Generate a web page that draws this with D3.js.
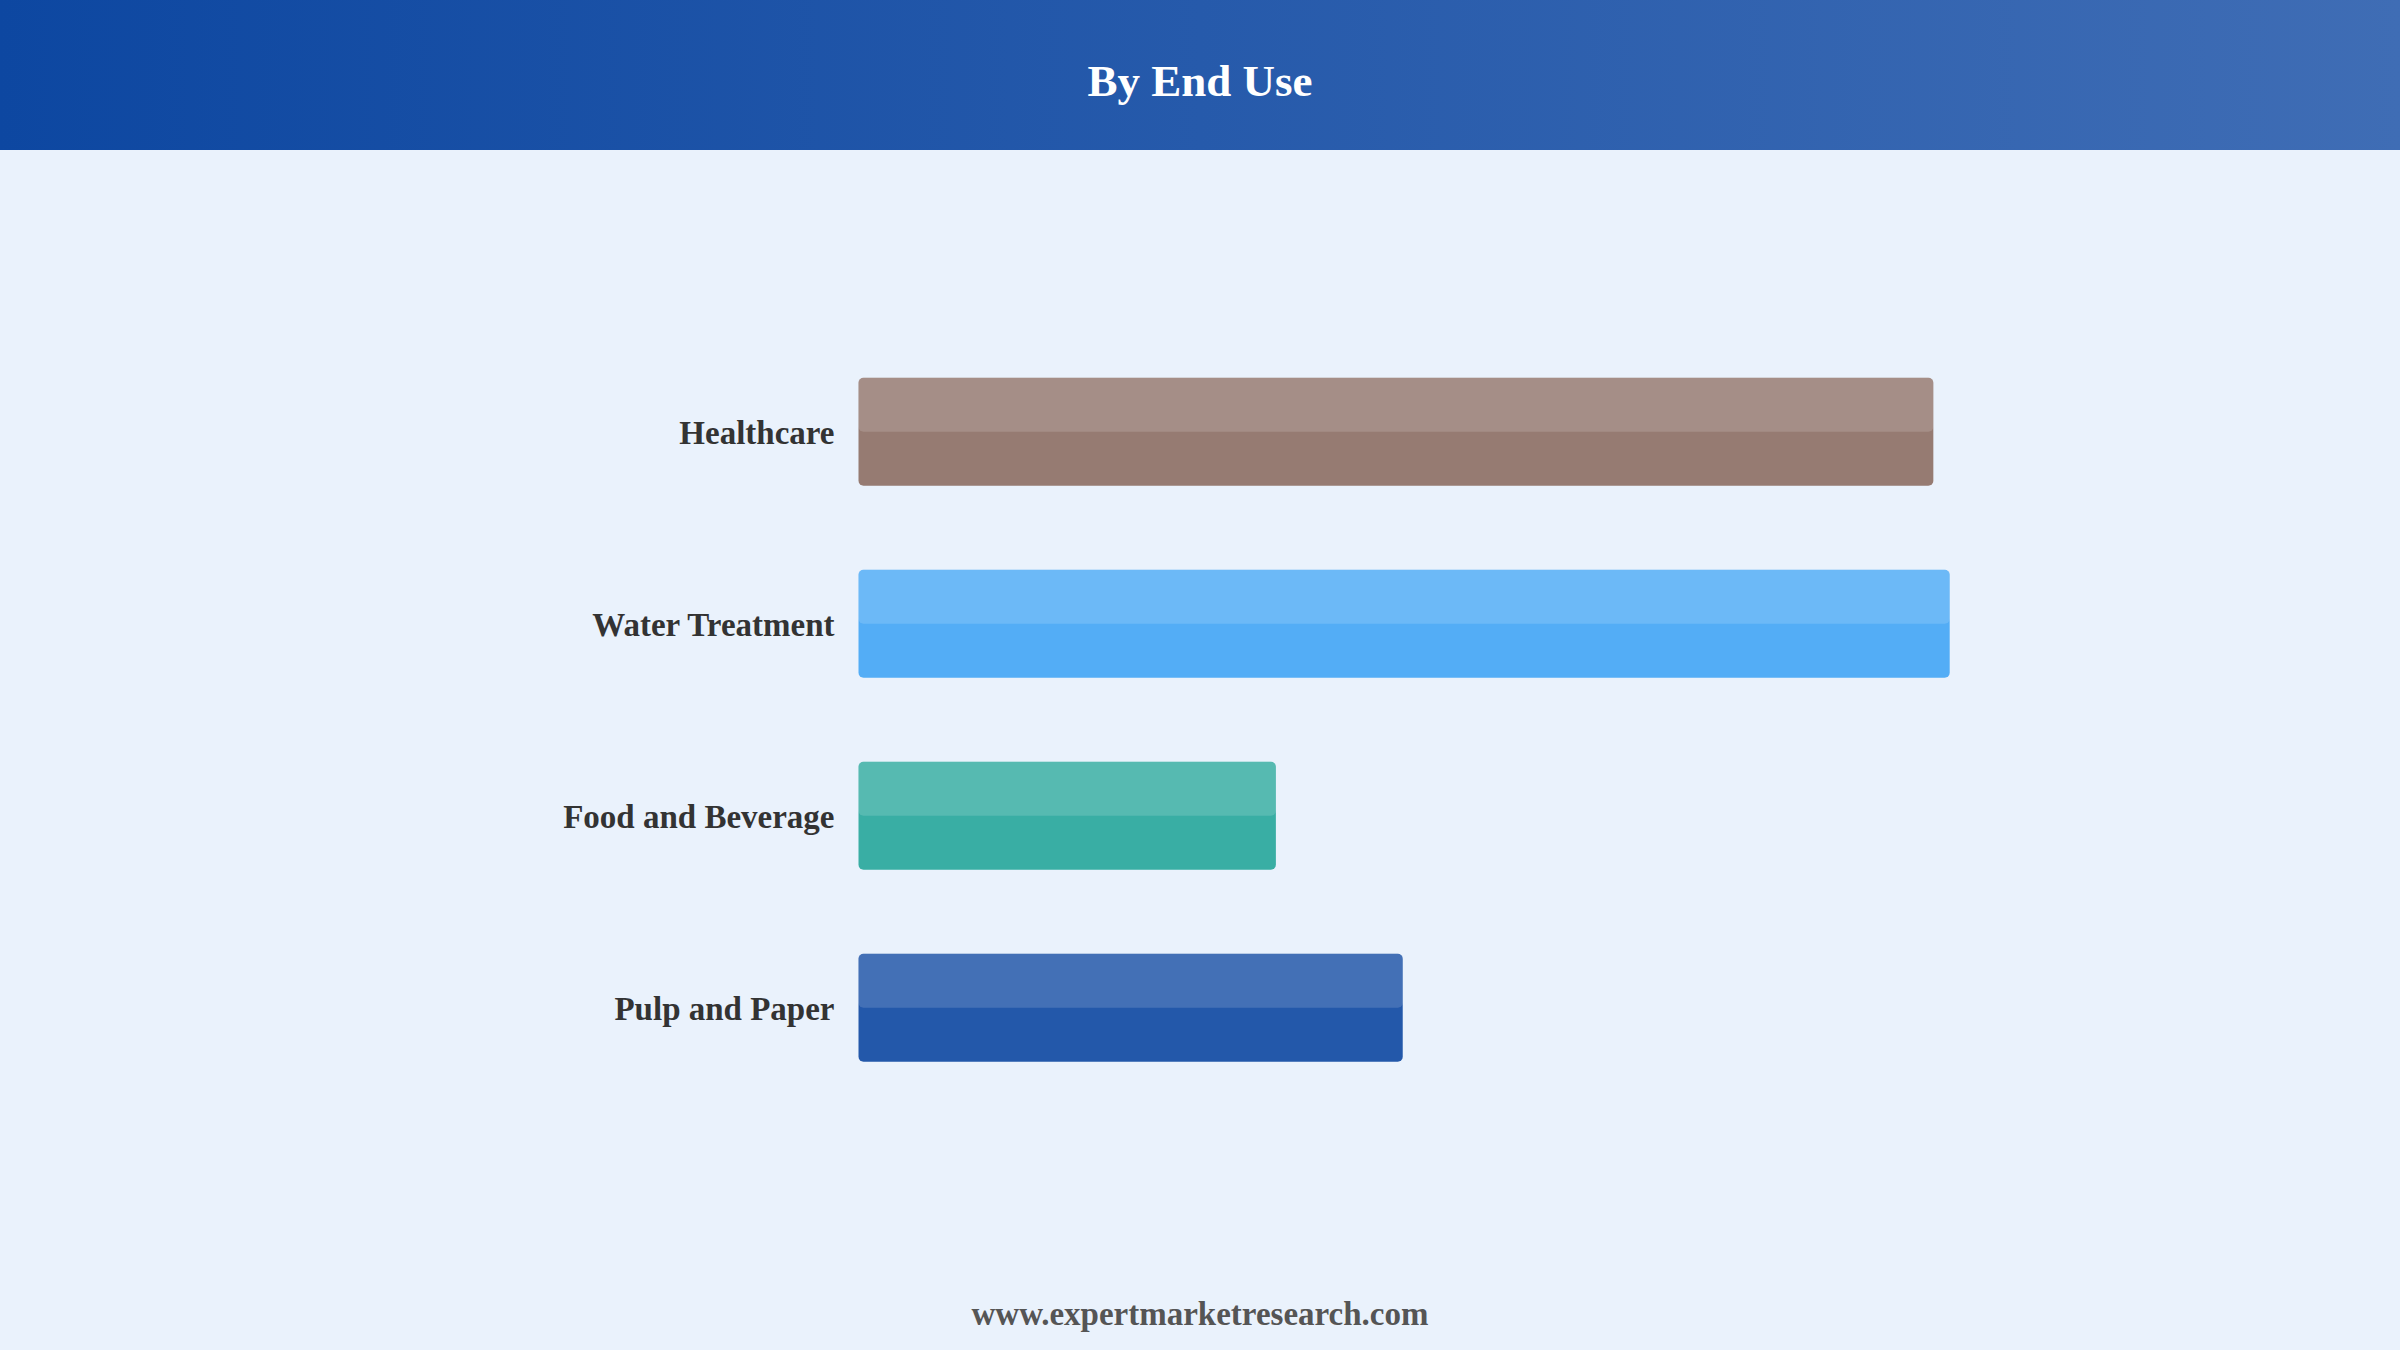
<!DOCTYPE html>
<html>
<head>
<meta charset="utf-8">
<script src="https://cdn.jsdelivr.net/npm/d3@7"></script>
<style>
  html, body { margin: 0; padding: 0; background: #EAF2FC; }
  svg { display: block; }
</style>
</head>
<body>
<svg id="chart" width="2400" height="1350"></svg>
<script>
const categories = ["Healthcare", "Water Treatment", "Food and Beverage", "Pulp and Paper"];
const values = [39.4, 40, 15.3, 19.95];
const colors = ["#8D6E63", "#42A5F5", "#26A69A", "#0D47A1"];
const titleText = "By End Use";
const footerText = "www.expertmarketresearch.com";

const W = 2400, H = 1350;
const svg = d3.select("#chart");

const defs = svg.append("defs");
const grad = defs.append("linearGradient").attr("id", "hdr").attr("x1", "0%").attr("x2", "100%").attr("y1", "0%").attr("y2", "0%");
grad.append("stop").attr("offset", "0%").attr("stop-color", "#0D47A1");
grad.append("stop").attr("offset", "100%").attr("stop-color", "#3F6DB5");

svg.append("rect").attr("x", 0).attr("y", 0).attr("width", W).attr("height", H).attr("fill", "#EAF2FC");
svg.append("rect").attr("x", 0).attr("y", 0).attr("width", W).attr("height", 150).attr("fill", "url(#hdr)");
svg.append("text").attr("x", W / 2).attr("y", 96).attr("text-anchor", "middle")
  .attr("font-family", "'Liberation Serif', 'Times New Roman', serif").attr("font-weight", "bold")
  .attr("font-size", 45).attr("fill", "#FFFFFF").text(titleText);

const x = d3.scaleLinear().domain([0, 40]).range([858.5, 1949.7]);
const y = d3.scaleBand().domain(categories).range([335.7, 1103.7]).paddingInner(0.4375).paddingOuter(0.21875);

const g = svg.append("g");
const bars = g.selectAll("g.bar").data(categories.map((c, i) => ({ c, v: values[i], col: colors[i] })))
  .enter().append("g").attr("class", "bar");

bars.append("rect")
  .attr("x", x(0)).attr("y", d => y(d.c))
  .attr("width", d => x(d.v) - x(0)).attr("height", y.bandwidth())
  .attr("rx", 5).attr("ry", 5)
  .attr("fill", d => d.col).attr("fill-opacity", 0.9);

bars.append("rect")
  .attr("x", x(0)).attr("y", d => y(d.c))
  .attr("width", d => x(d.v) - x(0)).attr("height", y.bandwidth() / 2)
  .attr("rx", 5).attr("ry", 5)
  .attr("fill", "#FFFFFF").attr("fill-opacity", 0.15);

bars.append("text")
  .attr("x", x(0) - 24).attr("y", d => y(d.c) + y.bandwidth() / 2 + 12)
  .attr("text-anchor", "end")
  .attr("font-family", "'Liberation Serif', 'Times New Roman', serif").attr("font-weight", "bold")
  .attr("font-size", 33).attr("fill", "#333333").text(d => d.c);

svg.append("text").attr("x", W / 2).attr("y", 1325).attr("text-anchor", "middle")
  .attr("font-family", "'Liberation Serif', 'Times New Roman', serif").attr("font-weight", "bold")
  .attr("font-size", 33).attr("fill", "#555555").text(footerText);
</script>
</body>
</html>
